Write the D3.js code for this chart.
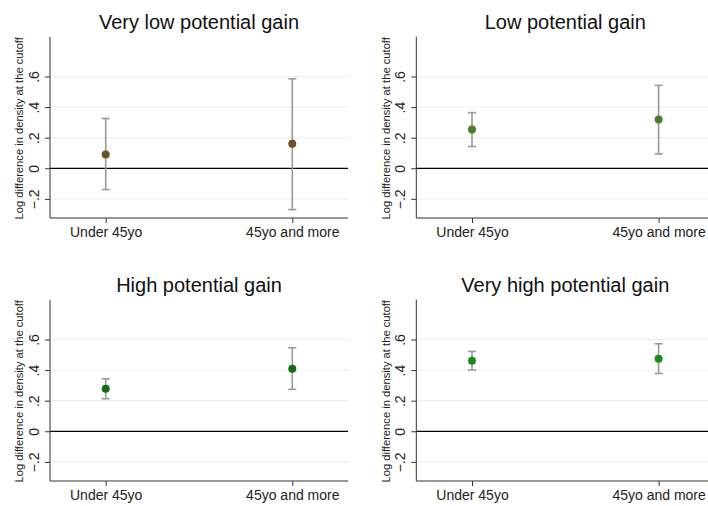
<!DOCTYPE html>
<html>
<head>
<meta charset="utf-8">
<script src="https://cdn.jsdelivr.net/npm/d3@7"></script>
<style>
  html, body { margin: 0; padding: 0; background: #fff; }
  svg { display: block; font-family: "Liberation Sans", Arial, sans-serif; }
</style>
</head>
<body>
<script>
const categories = ["Under 45yo", "45yo and more"];
const panelTitles = ["Very low potential gain", "Low potential gain", "High potential gain", "Very high potential gain"];
const estimates = [[0.090, 0.160], [0.253, 0.318], [0.278, 0.409], [0.461, 0.474]];
const lowerCI   = [[-0.139, -0.270], [0.142, 0.094], [0.213, 0.274], [0.400, 0.378]];
const upperCI   = [[0.325, 0.585], [0.364, 0.542], [0.343, 0.546], [0.522, 0.572]];
const yTicks = [-0.2, 0, 0.2, 0.4, 0.6];
const yTickLabels = ["\u2212.2", "0", ".2", ".4", ".6"];
const yTitle = "Log difference in density at the cutoff";
const pointColors = ["#6b5220", "#4e7a2e", "#146c14", "#1c8a1c"];

const W = 708, H = 506;
const FONT = '"Liberation Sans", Arial, sans-serif';
const svg = d3.select("body").append("svg").attr("width", W).attr("height", H);

const panelLeft = [50, 416.3];
const panelTop = [0, 263];
const plotW = 298;
const yTopPx = 36.7, yBotPx = 218;

panelTitles.forEach((title, i) => {
  const col = i % 2, row = Math.floor(i / 2);
  const x0 = panelLeft[col], dy = panelTop[row];
  const g = svg.append("g").attr("transform", `translate(${x0},${dy})`);

  const x = d3.scalePoint().domain(categories).range([0, plotW]).padding(0.2985);
  const y = d3.scaleLinear().domain([-0.325, 0.86]).range([yBotPx, yTopPx]);

  // gridlines
  g.selectAll("line.grid").data(yTicks.filter(t => t !== 0)).join("line")
    .attr("x1", 0).attr("x2", plotW)
    .attr("y1", d => y(d)).attr("y2", d => y(d))
    .attr("stroke", "#e6eff1").attr("stroke-width", 1);

  // zero line
  g.append("line").attr("x1", 0).attr("x2", plotW)
    .attr("y1", y(0)).attr("y2", y(0))
    .attr("stroke", "#000").attr("stroke-width", 1.3);

  // y axis
  const yAxis = d3.axisLeft(y).tickValues(yTicks)
    .tickFormat((d, k) => yTickLabels[k]).tickSize(5).tickPadding(3);
  const ya = g.append("g").call(yAxis).attr("font-family", FONT).attr("font-size", 14);
  ya.select(".domain").attr("d", `M0,${yTopPx}V${yBotPx}`).attr("stroke", "#333");
  ya.selectAll(".tick line").attr("stroke", "#333");
  ya.selectAll(".tick text")
    .attr("fill", "#222")
    .attr("text-anchor", "middle")
    .attr("x", null).attr("dy", null)
    .attr("transform", "translate(-11.5,0) rotate(-90)");

  // x axis
  const xAxis = d3.axisBottom(x).tickSize(5).tickPadding(4);
  const xa = g.append("g").attr("transform", `translate(0,${yBotPx})`).call(xAxis)
    .attr("font-family", FONT).attr("font-size", 14);
  xa.select(".domain").attr("d", `M0,0H${plotW}`).attr("stroke", "#333");
  xa.selectAll(".tick line").attr("stroke", "#333");
  xa.selectAll(".tick text").attr("fill", "#222");

  // y title
  g.append("text")
    .attr("transform", `translate(${col === 0 ? -27.5 : -26},${(yTopPx + yBotPx) / 2 + 1}) rotate(-90)`)
    .attr("text-anchor", "middle")
    .attr("font-size", 11.2).attr("fill", "#222")
    .text(yTitle);

  // panel title
  g.append("text")
    .attr("x", plotW / 2).attr("y", 28.5)
    .attr("text-anchor", "middle")
    .attr("font-size", 20).attr("fill", "#111")
    .text(title);

  // error bars
  const data = categories.map((c, k) => ({ c, est: estimates[i][k], lo: lowerCI[i][k], hi: upperCI[i][k] }));
  const capW = 4;
  const eb = g.selectAll("g.eb").data(data).join("g");
  eb.append("line")
    .attr("x1", d => x(d.c)).attr("x2", d => x(d.c))
    .attr("y1", d => y(d.lo)).attr("y2", d => y(d.hi))
    .attr("stroke", "#999").attr("stroke-width", 1.6);
  eb.append("line")
    .attr("x1", d => x(d.c) - capW).attr("x2", d => x(d.c) + capW)
    .attr("y1", d => y(d.lo)).attr("y2", d => y(d.lo))
    .attr("stroke", "#999").attr("stroke-width", 1.6);
  eb.append("line")
    .attr("x1", d => x(d.c) - capW).attr("x2", d => x(d.c) + capW)
    .attr("y1", d => y(d.hi)).attr("y2", d => y(d.hi))
    .attr("stroke", "#999").attr("stroke-width", 1.6);
  eb.append("circle")
    .attr("cx", d => x(d.c)).attr("cy", d => y(d.est))
    .attr("r", 4).attr("fill", pointColors[i]);
});
</script>
</body>
</html>
